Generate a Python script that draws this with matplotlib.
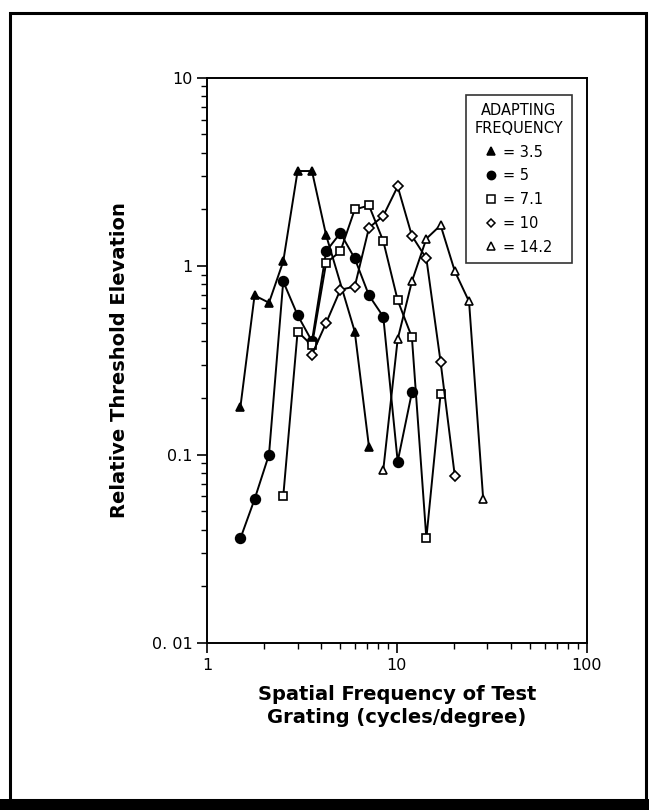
import matplotlib
matplotlib.use('Agg')
import matplotlib.pyplot as plt
from matplotlib.ticker import LogLocator, FixedLocator, FixedFormatter, NullFormatter
from matplotlib.patches import Rectangle
from matplotlib.lines import Line2D

# test grating spatial frequencies (half-octave steps)
freq_35 = [1.5, 1.78, 2.12, 2.52, 3.0, 3.57, 4.24, 6.0, 7.13]
elev_35 = [0.18, 0.70, 0.64, 1.06, 3.2, 3.2, 1.46, 0.45, 0.11]

freq_5 = [1.5, 1.78, 2.12, 2.52, 3.0, 3.57, 4.24, 5.04, 6.0, 7.13, 8.48, 10.1, 12.0]
elev_5 = [0.036, 0.058, 0.10, 0.83, 0.55, 0.40, 1.20, 1.50, 1.10, 0.70, 0.54, 0.092, 0.214]

freq_71 = [2.52, 3.0, 3.57, 4.24, 5.04, 6.0, 7.13, 8.48, 10.1, 12.0, 14.3, 17.0]
elev_71 = [0.060, 0.45, 0.38, 1.04, 1.20, 2.0, 2.1, 1.36, 0.66, 0.42, 0.036, 0.21]

freq_10 = [3.57, 4.24, 5.04, 6.0, 7.13, 8.48, 10.1, 12.0, 14.3, 17.0, 20.2]
elev_10 = [0.34, 0.50, 0.75, 0.78, 1.6, 1.85, 2.65, 1.45, 1.1, 0.31, 0.077]

freq_142 = [8.48, 10.1, 12.0, 14.3, 17.0, 20.2, 24.0, 28.5]
elev_142 = [0.083, 0.41, 0.83, 1.40, 1.65, 0.94, 0.65, 0.058]

labels = ['= 3.5', '= 5', '= 7.1', '= 10', '= 14.2']

# marker, size, face colour for each adapting frequency
styles = [('^', 6, 'black'), ('o', 7, 'black'), ('s', 6, 'white'),
          ('D', 5, 'white'), ('^', 6, 'white')]
series = [(freq_35, elev_35), (freq_5, elev_5), (freq_71, elev_71),
          (freq_10, elev_10), (freq_142, elev_142)]

fig = plt.figure(figsize=(6.49, 8.1), dpi=100)
ax = fig.add_axes([0.319, 0.206, 0.585, 0.698])

handles = []
for (xs, ys), (mk, ms, fc), lab in zip(series, styles, labels):
    ax.plot(xs, ys, '-', color='black', lw=1.4, marker=mk, ms=ms,
            mfc=fc, mec='black', mew=1.2)
    handles.append(Line2D([], [], ls='none', marker=mk, ms=ms * 0.85,
                          mfc=fc, mec='black', mew=1.1, label=lab))

ax.set_xscale('log')
ax.set_yscale('log')
ax.set_xlim(1, 100)
ax.set_ylim(0.01, 10)

ax.xaxis.set_major_locator(FixedLocator([1, 10, 100]))
ax.xaxis.set_major_formatter(FixedFormatter(['1', '10', '100']))
ax.yaxis.set_major_locator(FixedLocator([0.01, 0.1, 1, 10]))
ax.yaxis.set_major_formatter(FixedFormatter(['0. 01', '0.1', '1', '10']))
ax.xaxis.set_minor_locator(LogLocator(base=10, subs=range(2, 10)))
ax.yaxis.set_minor_locator(LogLocator(base=10, subs=range(2, 10)))
ax.xaxis.set_minor_formatter(NullFormatter())
ax.yaxis.set_minor_formatter(NullFormatter())

ax.tick_params(which='major', direction='out', length=7, width=1.2,
               labelsize=11.5, top=False, right=False)
ax.tick_params(which='minor', direction='out', length=4, width=1.0,
               top=False, right=False)
for s in ax.spines.values():
    s.set_linewidth(1.4)

ax.set_ylabel('Relative Threshold Elevation', fontsize=14, fontweight='black',
              labelpad=16)
ax.set_xlabel('Spatial Frequency of Test\nGrating (cycles/degree)', fontsize=14,
              fontweight='black', labelpad=9, linespacing=1.25)

leg = ax.legend(handles=handles, title='ADAPTING\nFREQUENCY', loc='upper right',
                bbox_to_anchor=(0.98, 0.983), frameon=True, fancybox=False,
                edgecolor='black', fontsize=10.5, title_fontsize=10.5,
                handlelength=0.8, handletextpad=0.4, labelspacing=0.6,
                borderpad=0.6)
leg.get_frame().set_linewidth(1.2)
leg.get_title().set_multialignment('center')

# outer frame around the figure
fig.patches.append(Rectangle((0.016, 0.012), 0.979, 0.972, transform=fig.transFigure,
                             fill=False, edgecolor='black', linewidth=2.2))
fig.patches.append(Rectangle((0.0, 0.0), 1.0, 0.013, transform=fig.transFigure,
                             facecolor='black', edgecolor='none'))

fig.savefig('out.png', dpi=100)
